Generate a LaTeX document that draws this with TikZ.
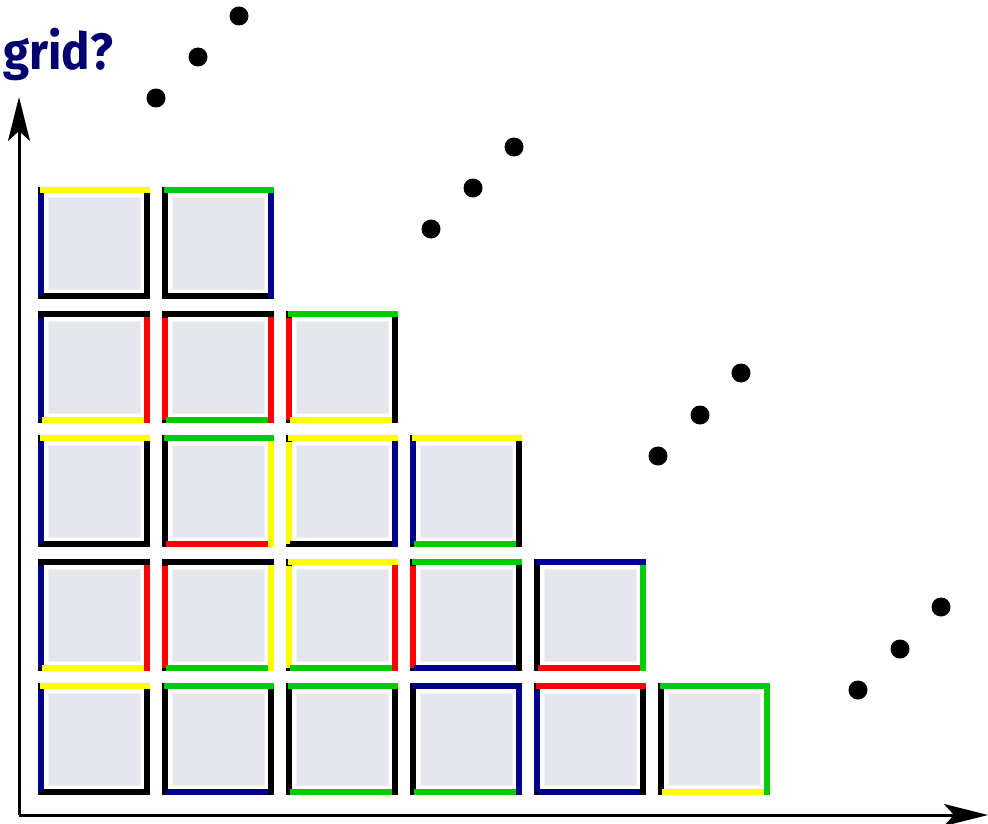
\documentclass[tikz,border=0pt]{standalone}
\usepackage{fontspec}
\setmainfont{Fira Sans}
\usetikzlibrary{arrows.meta}
\definecolor{cblue}{RGB}{0,0,140}
\definecolor{cgreen}{RGB}{0,204,0}
\definecolor{cred}{RGB}{255,0,0}
\definecolor{cyellow}{RGB}{255,255,0}
\definecolor{cgray}{RGB}{230,231,236}
\definecolor{txtblue}{RGB}{0,0,110}
\tikzset{
  edge/.style={line width=6pt, line cap=butt},
  frame/.style={draw=black, line width=6pt, line join=miter},
  cell/.style={fill=cgray, draw=cgray!60!white, line width=1pt},
  dot/.style={circle, fill=black, inner sep=0pt, minimum size=19pt},
  axis/.style={line width=3pt, -{Stealth[length=44pt,width=22pt,inset=10pt]}}
}
% \mysq{col}{row from bottom}{top}{right}{bottom}{left}
\newcommand{\mysq}[6]{%
  \pgfmathsetmacro{\L}{41+124*(#1-1)}%
  \pgfmathsetmacro{\R}{\L+106}%
  \pgfmathsetmacro{\T}{686-124*(#2-1)}%
  \pgfmathsetmacro{\B}{\T+106}%
  \draw[frame] (\L,\T) rectangle (\R,\B);
  \draw[cell] (\L+7,\T+7) rectangle (\R-7,\B-7);
  \draw[edge,#6] (\L,\T+4) -- (\L,\B);
  \draw[edge,#5] (\L+1,\B) -- (\R,\B);
  \draw[edge,#4] (\R,\T) -- (\R,\B+3);
  \draw[edge,#3] (\L-1,\T) -- (\R+3,\T);
}
\begin{document}
\begin{tikzpicture}[x=1pt,y=-1pt]
\useasboundingbox (0,0) rectangle (988,824);
% row 1 (bottom)
\mysq{1}{1}{cyellow}{black}{black}{cblue}
\mysq{2}{1}{cgreen}{black}{cblue}{black}
\mysq{3}{1}{cgreen}{black}{cgreen}{black}
\mysq{4}{1}{cblue}{cblue}{cgreen}{black}
\mysq{5}{1}{cred}{black}{cblue}{cblue}
\mysq{6}{1}{cgreen}{cgreen}{cyellow}{black}
% row 2
\mysq{1}{2}{black}{cred}{cyellow}{cblue}
\mysq{2}{2}{black}{cyellow}{cgreen}{cred}
\mysq{3}{2}{cyellow}{cred}{cgreen}{cyellow}
\mysq{4}{2}{cgreen}{black}{cblue}{cred}
\mysq{5}{2}{cblue}{cgreen}{cred}{black}
% row 3
\mysq{1}{3}{cyellow}{black}{black}{cblue}
\mysq{2}{3}{cgreen}{cyellow}{cred}{black}
\mysq{3}{3}{cyellow}{cblue}{black}{cyellow}
\mysq{4}{3}{cyellow}{black}{cgreen}{cblue}
% row 4
\mysq{1}{4}{black}{cred}{cyellow}{cblue}
\mysq{2}{4}{black}{cred}{cgreen}{cred}
\mysq{3}{4}{cgreen}{black}{cyellow}{cred}
% row 5
\mysq{1}{5}{cyellow}{black}{black}{cblue}
\mysq{2}{5}{cgreen}{cblue}{black}{black}
% axes
\coordinate (origin) at (19,815);
\coordinate (ytip) at (19,97);
\coordinate (xtip) at (988,815);
\draw[axis] (origin) -- (ytip);
\draw[axis] (origin) -- (xtip);
% dots
\node[dot] (d1) at (156,98) {};
\node[dot] (d2) at (198,57) {};
\node[dot] (d3) at (239,16) {};
\node[dot] (d4) at (431,229) {};
\node[dot] (d5) at (473,188) {};
\node[dot] (d6) at (514,147) {};
\node[dot] (d7) at (658,456) {};
\node[dot] (d8) at (700,415) {};
\node[dot] (d9) at (741,373) {};
\node[dot] (d10) at (858,690) {};
\node[dot] (d11) at (900,649) {};
\node[dot] (d12) at (941,607) {};
% label
\node[anchor=base west, inner sep=0pt, text=txtblue, xscale=0.93, font=\fontsize{51}{55}\selectfont\bfseries] (lbl) at (3,70) {grid?};
\end{tikzpicture}
\end{document}
